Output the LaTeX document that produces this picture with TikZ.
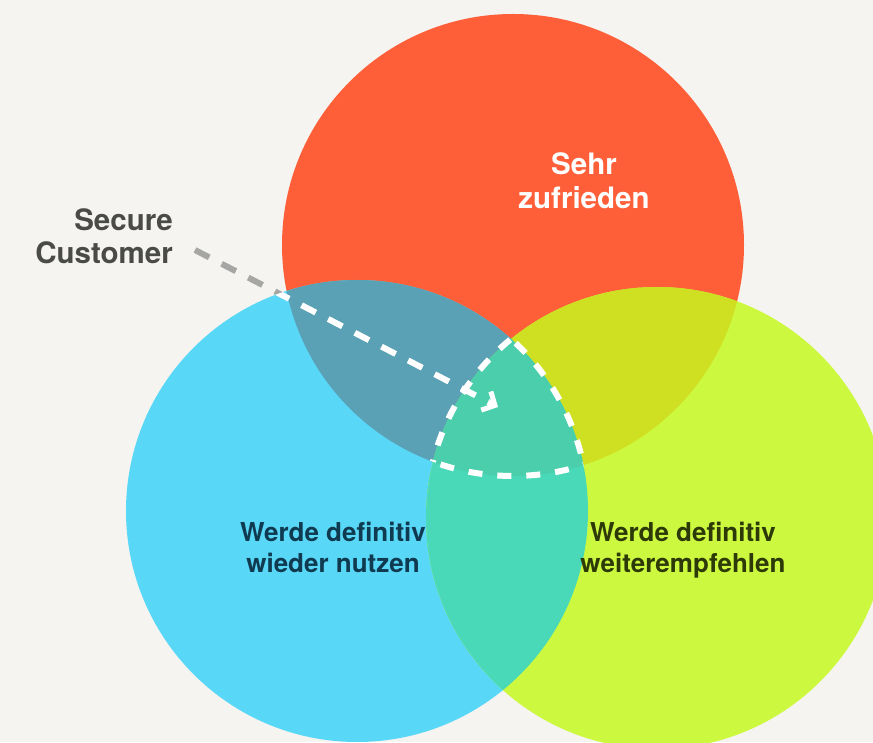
\documentclass[tikz,border=0pt]{standalone}
\usepackage{fontspec}
\setmainfont{TeX Gyre Heros}
\usetikzlibrary{arrows.meta}

\definecolor{bgcol}{HTML}{F5F4F0}
\definecolor{cred}{HTML}{FE5F39}
\definecolor{cblue}{HTML}{59D7F7}
\definecolor{cgreen}{HTML}{CCF93F}
\definecolor{credblue}{HTML}{5BA1B6}
\definecolor{credgreen}{HTML}{CEE021}
\definecolor{cbluegreen}{HTML}{49D9B9}
\definecolor{ctriple}{HTML}{4ACEAB}
\definecolor{arrowgray}{HTML}{A6A6A4}
\definecolor{txtgray}{HTML}{4A4A47}
\definecolor{txtblue}{HTML}{0F3A50}
\definecolor{txtgreen}{HTML}{2D3A08}

\begin{document}
\begin{tikzpicture}[x=1pt,y=1pt,
  biglbl/.style={inner sep=0pt, font=\bfseries\fontsize{29.5}{34}\selectfont},
  setlbl/.style={inner sep=0pt, font=\bfseries\fontsize{26}{31}\selectfont},
  dashline/.style={line width=6pt, dash pattern=on 16pt off 14pt},
  rimline/.style={draw=white, line width=6pt, dash pattern=on 14pt off 15pt},
  pointer/.style={dashline, -{Straight Barb[length=10pt,width=21pt,line width=5pt]}},
]
\useasboundingbox (0,0) rectangle (873,742);
\fill[bgcol] (0,0) rectangle (873,742);

% circle centres
\coordinate (R) at (513,497);
\coordinate (B) at (357,231);
\coordinate (G) at (657,224);

% the three sets
\fill[cred]   (R) circle (231);
\fill[cblue]  (B) circle (231);
\fill[cgreen] (G) circle (231);

% pairwise overlaps
\begin{scope}\clip (R) circle (231); \fill[credblue]  (B) circle (231);\end{scope}
\begin{scope}\clip (R) circle (231); \fill[credgreen] (G) circle (231);\end{scope}
\begin{scope}\clip (B) circle (231); \fill[cbluegreen] (G) circle (231);\end{scope}
% centre overlap
\begin{scope}\clip (R) circle (231); \clip (B) circle (231); \fill[ctriple] (G) circle (231);\end{scope}

% dashed rim of the centre overlap
\begin{scope}\clip (R) circle (231); \clip (B) circle (231); \draw[rimline] (G) circle (231);\end{scope}
\begin{scope}\clip (B) circle (231); \clip (G) circle (231); \draw[rimline] (R) circle (231);\end{scope}
\begin{scope}\clip (R) circle (231); \clip (G) circle (231); \draw[rimline] (B) circle (231);\end{scope}

% pointer: grey outside the circles, white inside
\coordinate (pstart) at (195,492);
\coordinate (ptip) at (498,335);
\begin{scope}[even odd rule]
  \clip (0,0) rectangle (873,742) (R) circle (231);
  \clip (0,0) rectangle (873,742) (B) circle (231);
  \draw[pointer, arrowgray] (pstart) -- (ptip);
\end{scope}
\begin{scope}
  \clip (R) circle (231) (B) circle (231);
  \draw[pointer, white] (pstart) -- (ptip);
\end{scope}

% labels
\node[biglbl, text=white, anchor=base] (sehr) at (584,567) {Sehr};
\node[biglbl, text=white, anchor=base] (zufr) at (584,533) {zufrieden};

\node[biglbl, text=txtgray, anchor=base east] (secure) at (173,511) {Secure};
\node[biglbl, text=txtgray, anchor=base east] (customer) at (173,478) {Customer};

\node[setlbl, text=txtblue, anchor=base] (nutzA) at (333,200) {Werde definitiv};
\node[setlbl, text=txtblue, anchor=base] (nutzB) at (333,169) {wieder nutzen};

\node[setlbl, text=txtgreen, anchor=base] (empfA) at (683,200) {Werde definitiv};
\node[setlbl, text=txtgreen, anchor=base] (empfB) at (683,169) {weiterempfehlen};
\end{tikzpicture}
\end{document}
